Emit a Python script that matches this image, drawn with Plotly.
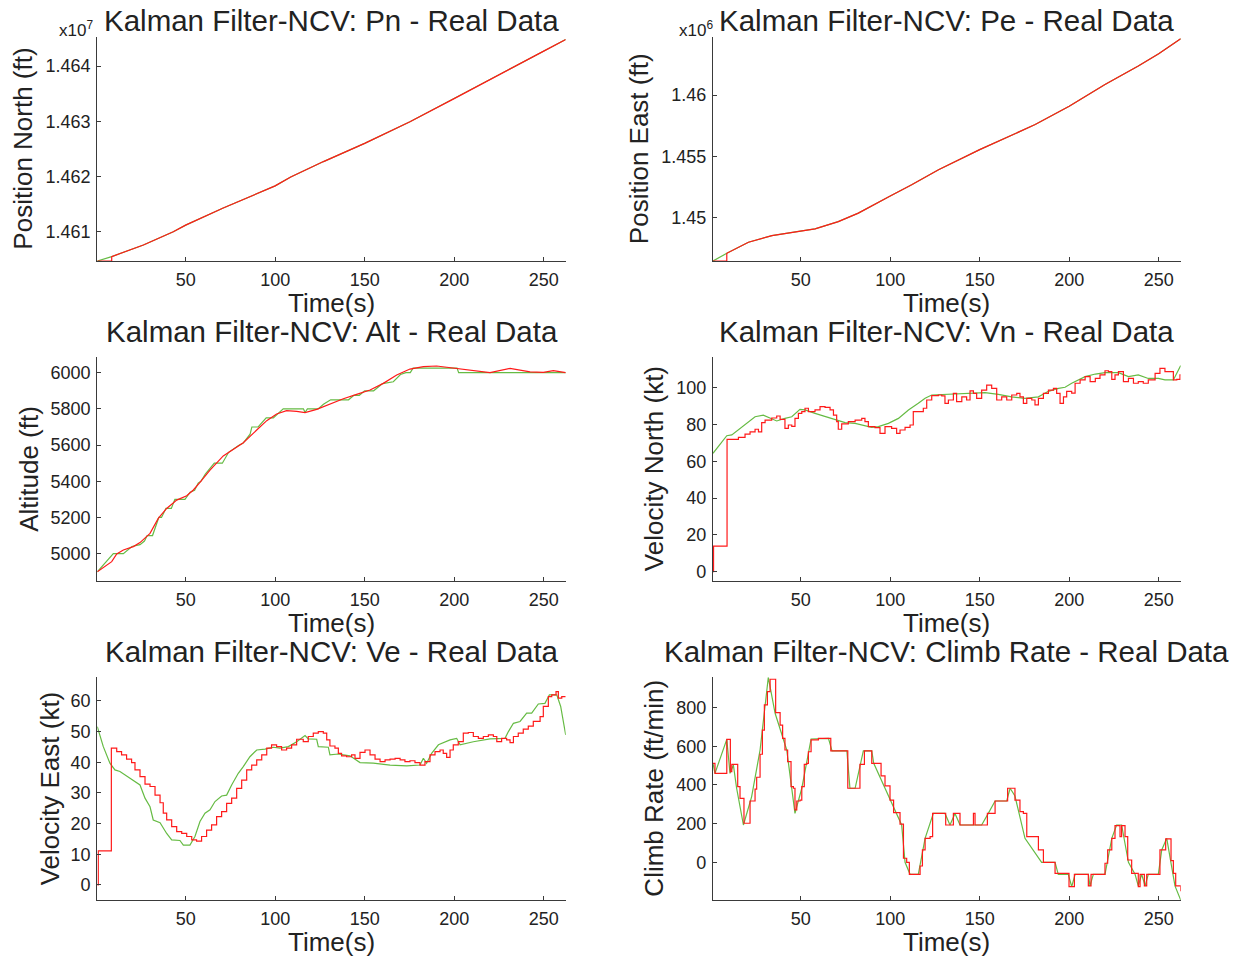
import plotly.graph_objects as go

# ---------------- data ----------------
# Position North (x1e7 ft)
pn_t = [8.7, 26.4, 43.1, 50.0, 71.0, 100.0, 108.7, 127.0, 150.0, 175.3, 200.0, 220.0, 234.0, 250.0, 262.3]
pn_v = [1.46055, 1.46076, 1.46100, 1.46112, 1.46143, 1.46183, 1.46199, 1.46227, 1.46260, 1.46299,
        1.46341, 1.46376, 1.46399, 1.46427, 1.46448]
pn_t0 = [0.65, 8.7]
pn_v0 = [1.46047, 1.46047]

# Position East (x1e6 ft)
pe_t = [8.7, 20.8, 33.9, 50.6, 58.0, 71.0, 82.2, 99.5, 112.0, 127.0, 150.0, 181.0, 200.0, 220.0, 238.6, 250.0, 262.3]
pe_v = [1.44708, 1.44798, 1.44852, 1.44891, 1.44907, 1.44967, 1.45036, 1.45172, 1.45268, 1.45391,
        1.45555, 1.45760, 1.45910, 1.46087, 1.46238, 1.46338, 1.46462]
pe_t0 = [1.0, 8.7]
pe_v0 = [1.44645, 1.44645]

# Altitude (ft)
alt_t_r = [0.65, 8.7, 11.5, 15.2, 20.8, 24.5, 30.1, 34.7, 39.4, 45.0, 50.6, 54.3, 58.0, 63.6, 71.0, 76.6,
           82.2, 89.7, 95.3, 100.8, 106.4, 112.0, 116.7, 123.2, 130.6, 138.1, 145.5, 153.0, 160.4, 167.9,
           175.3, 182.8, 190.2, 201.4, 210.7, 220.0, 231.2, 242.4, 249.8, 255.4, 262.3]
alt_v_r = [4900, 4956, 4998, 5020, 5039, 5061, 5112, 5195, 5250, 5296, 5320, 5352, 5394, 5462, 5540, 5578,
           5613, 5683, 5735, 5772, 5790, 5786, 5779, 5797, 5827, 5856, 5880, 5904, 5941, 5987,
           6020, 6033, 6037, 6024, 6011, 6000, 6024, 6005, 6002, 6011, 6000]
alt_t_g = [0.65, 9.6, 15.2, 20.0, 24.5, 27.0, 28.5, 31.5, 35.0, 36.5, 39.0, 42.0, 44.0, 49.6, 52.5, 55.0,
           57.0, 58.5, 61.0, 66.0, 70.5, 74.0, 80.0, 82.0, 86.0, 87.0, 90.5, 95.0, 99.0, 102.0, 104.5,
           115.8, 116.7, 118.0, 124.0, 127.0, 131.0, 141.0, 144.0, 147.0, 150.0, 155.0, 160.0, 166.0,
           170.0, 173.0, 175.5, 177.0, 201.6, 202.5, 262.3]
alt_v_g = [4900, 5000, 5000, 5040, 5050, 5070, 5100, 5100, 5200, 5200, 5250, 5250, 5300, 5300, 5340, 5350,
           5390, 5400, 5440, 5500, 5500, 5560, 5600, 5610, 5660, 5700, 5700, 5750, 5750, 5780, 5800,
           5800, 5780, 5800, 5800, 5825, 5850, 5850, 5875, 5875, 5900, 5900, 5940, 5950,
           5990, 6000, 6000, 6025, 6025, 6000, 6000]

# Velocity North (kt)
vn_t_r = [1.0, 1.3, 8.85, 15.2, 18.9, 21.7, 24.5, 26.4, 28.2, 30.1, 33.8, 36.6, 38.5, 41.2, 43.1, 45.0, 46.8,
          48.7, 50.6, 52.4, 54.3, 58.0, 60.8, 63.6, 66.4, 68.3, 70.1, 71.0, 72.9, 76.6, 80.4, 84.1, 85.9,
          87.8, 91.5, 94.3, 97.1, 100.8, 103.6, 105.5, 108.3, 111.1, 112.9, 115.7, 118.5, 120.4, 123.2,
          126.9, 128.8, 130.6, 132.5, 135.3, 137.1, 140.0, 142.7, 144.6, 146.5, 148.3, 151.1, 153.9,
          156.7, 159.5, 162.3, 165.1, 167.9, 170.7, 172.5, 174.4, 176.3, 179.1, 180.9, 182.8, 185.6,
          188.4, 191.2, 193.0, 194.9, 196.8, 198.6, 201.4, 203.3, 206.1, 208.9, 211.7, 214.6, 217.2,
          220.0, 221.9, 223.8, 225.6, 227.5, 230.3, 233.1, 235.9, 238.6, 241.4, 244.2, 248.0, 250.7,
          253.5, 256.3, 258.2, 260.1, 261.9, 262.3]
vn_v_r = [0.0, 13.9, 71.9, 73.0, 74.8, 76.0, 77.4, 76.0, 81.0, 82.4, 83.5, 84.6, 82.8, 77.9, 79.7, 79.0, 83.3,
          86.0, 87.0, 88.8, 87.0, 87.9, 89.7, 89.3, 87.9, 85.1, 81.5, 77.4, 80.3, 81.5, 82.4, 83.3, 81.5,
          78.8, 78.3, 75.2, 78.8, 77.9, 75.2, 77.0, 78.4, 79.7, 87.0, 87.0, 88.8, 93.3, 95.7,
          96.0, 95.5, 91.5, 93.3, 96.9, 92.4, 95.0, 93.3, 98.2, 96.9, 94.2, 98.7, 101.4,
          99.6, 93.3, 95.0, 93.3, 96.0, 96.9, 95.0, 91.5, 94.2, 93.3, 90.6, 94.2, 96.9,
          98.7, 99.6, 96.9, 91.5, 95.0, 98.0, 97.0, 102.4, 104.2, 106.0, 103.3, 105.0, 106.9,
          109.2, 108.7, 104.5, 106.9, 108.7, 103.3, 105.0, 102.4, 103.3, 102.4, 104.2, 107.8, 110.5,
          108.7, 108.7, 104.2, 104.5, 106.9, 106.9]
vn_t_g = [1.0, 8.7, 11.5, 15.2, 18.9, 24.5, 29.1, 33.8, 36.6, 41.2, 45.0, 49.6, 52.4, 58.0, 63.6, 69.2,
          74.8, 80.4, 85.9, 89.7, 93.4, 99.0, 104.6, 110.2, 115.7, 119.5, 123.2, 130.6, 138.1, 145.5,
          153.0, 160.4, 167.9, 175.3, 182.8, 188.4, 194.0, 197.7, 201.4, 208.9, 214.6, 220.0, 227.5,
          233.1, 238.6, 244.2, 249.8, 253.5, 258.2, 262.3]
vn_v_g = [64.3, 73.9, 74.3, 77.0, 79.7, 84.2, 85.1, 83.3, 81.9, 83.3, 84.2, 88.2, 87.9, 86.0, 84.2, 82.4,
          81.0, 80.6, 79.2, 78.4, 78.8, 80.6, 83.3, 87.9, 91.5, 94.2, 96.0, 96.4, 96.9, 96.9,
          97.3, 96.4, 95.0, 94.2, 95.0, 98.0, 99.6, 100.2, 102.4, 106.0, 107.4, 108.2, 108.2,
          106.0, 106.9, 105.0, 105.0, 104.2, 104.2, 112.0]

# Velocity East (kt)
ve_t_r = [0.65, 1.2, 8.5, 11.5, 14.2, 17.0, 19.8, 21.7, 24.5, 27.3, 30.1, 32.9, 35.7, 37.5, 39.4, 42.2, 45.0,
          47.8, 50.6, 53.4, 56.1, 58.9, 61.7, 64.5, 67.3, 70.1, 72.9, 75.7, 78.5, 81.3, 84.1, 86.9, 89.7,
          92.5, 95.3, 98.0, 100.8, 103.6, 106.4, 109.2, 112.0, 115.7, 118.5, 121.3, 124.1, 126.9, 128.8,
          130.6, 133.4, 135.3, 137.1, 139.9, 142.7, 144.6, 147.4, 150.2, 153.0, 155.8, 158.6, 161.4,
          164.2, 167.0, 169.8, 172.5, 175.3, 178.1, 180.9, 183.7, 186.5, 189.3, 192.1, 193.9, 195.8,
          197.7, 199.5, 202.3, 205.1, 207.9, 210.7, 213.5, 216.3, 219.1, 221.9, 223.8, 226.5, 229.3,
          231.2, 233.1, 235.8, 238.6, 241.4, 244.2, 248.0, 249.8, 252.6, 254.5, 256.9, 258.2, 260.1, 262.3]
ve_v_r = [0.0, 11.1, 44.6, 43.5, 42.4, 41.0, 39.9, 37.5, 35.3, 32.9, 32.1, 29.3, 26.8, 23.4, 21.2, 19.0, 17.4,
          16.8, 15.8, 14.7, 14.3, 15.8, 17.9, 19.6, 22.3, 23.9, 26.6, 28.3, 31.5, 34.2, 37.5, 39.1, 40.8,
          42.4, 44.6, 45.7, 45.1, 44.0, 44.6, 45.7, 47.5, 46.7, 48.4, 49.5, 50.0, 49.5, 47.3,
          45.3, 44.6, 42.9, 42.1, 41.8, 42.4, 41.3, 43.2, 44.0, 42.4, 41.0, 40.2, 40.8,
          41.0, 41.3, 40.8, 40.2, 40.5, 39.9, 39.1, 40.2, 42.4, 43.5, 44.0, 42.9, 41.6,
          44.0, 45.7, 46.7, 49.5, 49.7, 48.4, 47.8, 48.4, 48.9, 48.4, 46.7, 47.8, 47.3,
          46.4, 48.4, 49.5, 50.8, 51.8, 53.3, 54.9, 58.2, 61.4, 62.0, 63.0, 60.9, 61.4, 61.4]
ve_t_g = [0.65, 4.0, 7.7, 10.5, 13.3, 17.0, 20.8, 24.5, 27.3, 30.1, 31.9, 35.7, 39.4, 42.2, 46.8, 48.7, 52.4,
          55.2, 58.0, 60.8, 63.6, 66.4, 70.1, 72.9, 75.7, 79.4, 82.2, 85.9, 89.7, 94.3, 99.0, 102.7,
          107.4, 112.0, 116.7, 118.5, 123.2, 124.1, 129.7, 130.6, 135.3, 141.8, 147.4, 154.8, 164.2,
          173.5, 180.9, 182.8, 184.6, 187.4, 191.2, 197.7, 201.4, 203.3, 210.7, 220.0, 228.4, 230.3,
          233.1, 236.8, 240.5, 243.3, 247.0, 250.7, 253.2, 257.3, 259.5, 262.3]
ve_v_g = [51.6, 45.1, 39.7, 37.5, 37.0, 35.5, 34.2, 32.6, 28.3, 25.5, 21.2, 20.3, 16.8, 14.7, 14.5, 13.0, 13.0,
          15.8, 20.7, 23.4, 24.5, 27.2, 29.0, 29.3, 32.6, 36.4, 38.6, 41.8, 44.0, 44.3, 44.9, 44.6,
          45.1, 46.7, 48.7, 47.6, 47.5, 45.1, 44.9, 42.4, 42.7, 42.1, 39.9, 39.7, 39.1,
          38.8, 39.1, 41.3, 39.7, 42.9, 45.7, 47.3, 47.8, 45.7, 46.7, 47.6, 47.8, 50.0,
          52.7, 53.3, 56.0, 56.0, 59.0, 59.2, 62.0, 62.0, 58.2, 48.9]

# Climb rate (ft/min)
cr_t_r = [1.0, 2.1, 8.7, 10.7, 11.5, 14.8, 16.1, 18.3, 21.7, 24.5, 25.4, 27.3, 28.6, 29.7, 31.4, 32.9, 36.0,
          38.5, 39.9, 41.2, 42.7, 44.6, 45.9, 46.8, 47.8, 49.6, 50.6, 52.0, 53.4, 54.3, 55.8, 59.9, 66.8,
          76.3, 83.1, 85.6, 89.7, 94.9, 97.1, 99.9, 101.9, 105.5, 107.4, 109.2, 110.7, 116.7, 118.0,
          119.5, 122.3, 123.7, 131.0, 135.3, 139.0, 146.5, 147.4, 154.3, 158.6, 165.6, 169.7, 172.5,
          174.4, 176.3, 182.8, 185.6, 192.1, 199.9, 202.9, 210.7, 212.2, 220.0, 221.5, 223.8, 225.6,
          228.4, 229.3, 231.2, 232.7, 234.9, 238.6, 239.6, 242.0, 243.3, 250.7, 253.9, 256.9, 258.2,
          259.5, 262.3]
cr_v_r = [512, 460, 636, 469, 507, 391, 331, 202, 317, 379, 440, 559, 684, 814, 883, 947, 774,
          710, 641, 581, 521, 391, 383, 271, 317, 322, 391, 507, 512, 572, 633, 641, 576,
          383, 507, 576, 512, 447, 395, 322, 257, 198, 21, 0, -62, -19, 64,
          124, 133, 253, 193, 253, 193, 253, 193, 253, 317, 383, 322, 262,
          253, 133, 64, 0, -57, -126, -62, -122, -62, -5, 64, 124, 190,
          133, 190, 133, 12, -57, -126, -62, -122, -62, 64, 121, 9, -57,
          -122, -150]
cr_t_g = [1.0, 2.1, 8.7, 10.5, 12.4, 14.2, 18.0, 22.6, 27.3, 31.9, 35.7, 42.2, 46.8, 50.6, 55.8, 65.5, 67.5,
          75.8, 77.5, 80.4, 85.0, 89.7, 90.8, 93.4, 100.8, 106.4, 108.3, 111.1, 115.7, 119.5, 124.1, 130.6, 133.4,
          136.2, 139.0, 151.1, 154.8, 158.6, 165.1, 167.0, 169.7, 175.3, 184.6, 192.1, 193.9, 199.5,
          201.4, 203.3, 210.7, 211.6, 213.5, 220.0, 223.8, 226.5, 229.3, 233.1, 236.8, 238.6, 240.5,
          242.4, 244.2, 249.8, 251.7, 254.5, 259.1, 262.3]
cr_v_g = [512, 460, 636, 460, 503, 383, 193, 340, 581, 957, 771, 581, 253, 383, 638, 641, 576,
          576, 383, 383, 576, 576, 512, 460, 305, 193, 0, -62, -62, 124, 253, 253, 193,
          253, 193, 193, 253, 317, 317, 383, 343, 124, 0, 0, -62, -62,
          -126, -62, -62, -122, -62, -62, 124, 193, 193, 0, -62, -122, -62,
          -122, -62, -62, 64, 124, -122, -195]

x_ticks = [50, 100, 150, 200, 250]

# ---------------- figure ----------------
# the page body has an 8 px margin, so the figure is drawn 8 px smaller and offset
OFF = 8
W, H = 1239 - OFF, 960 - OFF
RED = "#ff1a1a"
GREEN = "#66bb44"
TXT = "#222222"
AX = "#3a3a3a"
FONT = "Liberation Sans, Arial, sans-serif"

cols = {0: (97.3, 565.7), 1: (713.0, 1180.7)}
rows = {0: (37.3, 261.0), 1: (357.3, 581.0), 2: (677.3, 900.0)}

def xd(p):
    return (p - OFF) / W

def yd(p):
    return 1 - (p - OFF) / H

fig = go.Figure()

panels = [
    (1, 0, 0, [0.65, 262.3], [1.46047, 1.46452], [1.461, 1.462, 1.463, 1.464],
     ["1.461", "1.462", "1.463", "1.464"], "Kalman Filter-NCV: Pn - Real Data", "Position North (ft)", 23.5),
    (2, 1, 0, [1.0, 262.3], [1.44645, 1.46473], [1.45, 1.455, 1.46],
     ["1.45", "1.455", "1.46"], "Kalman Filter-NCV: Pe - Real Data", "Position East (ft)", 639),
    (3, 0, 1, [0.65, 262.3], [4849, 6085], [5000, 5200, 5400, 5600, 5800, 6000],
     ["5000", "5200", "5400", "5600", "5800", "6000"], "Kalman Filter-NCV: Alt - Real Data", "Altitude (ft)", 28.7),
    (4, 1, 1, [1.0, 262.3], [-5.07, 116.5], [0, 20, 40, 60, 80, 100],
     ["0", "20", "40", "60", "80", "100"], "Kalman Filter-NCV: Vn - Real Data", "Velocity North (kt)", 654),
    (5, 0, 2, [0.65, 262.3], [-4.9, 67.7], [0, 10, 20, 30, 40, 50, 60],
     ["0", "10", "20", "30", "40", "50", "60"], "Kalman Filter-NCV: Ve - Real Data", "Velocity East (kt)", 49.7),
    (6, 1, 2, [1.0, 262.3], [-195, 957], [0, 200, 400, 600, 800],
     ["0", "200", "400", "600", "800"], "Kalman Filter-NCV: Climb Rate - Real Data", "Climb Rate (ft/min)", 654),
]

title_y = {0: 20.5, 1: 331.3, 2: 651.3}
xlab_y = {0: 303.4, 1: 622.5, 2: 941.5}

annotations = []
for idx, c, r, xr, yr, tv, tt, title, ylab, ylx in panels:
    sfx = "" if idx == 1 else str(idx)
    x0, x1 = cols[c]
    y0, y1 = rows[r]
    common = dict(
        showline=True, linecolor=AX, linewidth=1.3, mirror=False,
        ticks="inside", ticklen=4, tickcolor=AX, tickwidth=1,
        showgrid=False, zeroline=False, ticklabelstandoff=2,
        tickfont=dict(family=FONT, size=18, color=TXT),
    )
    fig.layout["xaxis" + sfx] = dict(
        domain=[xd(x0), xd(x1)], range=xr, anchor="y" + sfx,
        tickmode="array", tickvals=x_ticks, ticktext=[str(v) for v in x_ticks], **common)
    fig.layout["yaxis" + sfx] = dict(
        domain=[yd(y1), yd(y0)], range=yr, anchor="x" + sfx,
        tickmode="array", tickvals=tv, ticktext=tt, **common)
    cx = (x0 + x1) / 2
    annotations.append(dict(text=title, x=xd(cx), y=yd(title_y[r]), xref="paper", yref="paper",
                            xanchor="center", yanchor="middle", showarrow=False,
                            font=dict(family=FONT, size=29.5, color=TXT)))
    annotations.append(dict(text="Time(s)", x=xd(cx), y=yd(xlab_y[r]), xref="paper", yref="paper",
                            xanchor="center", yanchor="middle", showarrow=False,
                            font=dict(family=FONT, size=26, color=TXT)))
    annotations.append(dict(text=ylab, x=xd(ylx), y=yd((y0 + y1) / 2), xref="paper", yref="paper",
                            xanchor="center", yanchor="middle", showarrow=False, textangle=-90,
                            font=dict(family=FONT, size=26, color=TXT)))

annotations.append(dict(text="x10<sup>7</sup>", x=xd(95), y=yd(29), xref="paper", yref="paper",
                        xanchor="right", yanchor="middle", showarrow=False,
                        font=dict(family=FONT, size=17, color=TXT)))
annotations.append(dict(text="x10<sup>6</sup>", x=xd(715), y=yd(29), xref="paper", yref="paper",
                        xanchor="right", yanchor="middle", showarrow=False,
                        font=dict(family=FONT, size=17, color=TXT)))

def add(x, y, color, axis, shape="linear", width=1.2):
    sfx = "" if axis == 1 else str(axis)
    fig.add_trace(go.Scatter(x=x, y=y, mode="lines", line=dict(color=color, width=width, shape=shape),
                             xaxis="x" + sfx, yaxis="y" + sfx, showlegend=False, hoverinfo="skip"))

# Pn
add([pn_t0[0]] + pn_t, [pn_v0[0]] + pn_v, GREEN, 1)
add(pn_t0 + pn_t, pn_v0 + pn_v, RED, 1)
# Pe
add([pe_t0[0]] + pe_t, [pe_v0[0]] + pe_v, GREEN, 2)
add(pe_t0 + pe_t, pe_v0 + pe_v, RED, 2)
# Alt
add(alt_t_g, alt_v_g, GREEN, 3)
add(alt_t_r, alt_v_r, RED, 3)
# Vn
add(vn_t_g, vn_v_g, GREEN, 4)
add(vn_t_r, vn_v_r, RED, 4, shape="hv")
# Ve
add(ve_t_g, ve_v_g, GREEN, 5)
add(ve_t_r, ve_v_r, RED, 5, shape="hv")
# Climb
add(cr_t_g, cr_v_g, GREEN, 6)
add(cr_t_r, cr_v_r, RED, 6, shape="hv")

fig.update_layout(
    width=W, height=H, autosize=False,
    margin=dict(l=0, r=0, t=0, b=0),
    paper_bgcolor="white", plot_bgcolor="white",
    annotations=annotations,
    font=dict(family=FONT, color=TXT),
)

fig.write_html("out.html")
